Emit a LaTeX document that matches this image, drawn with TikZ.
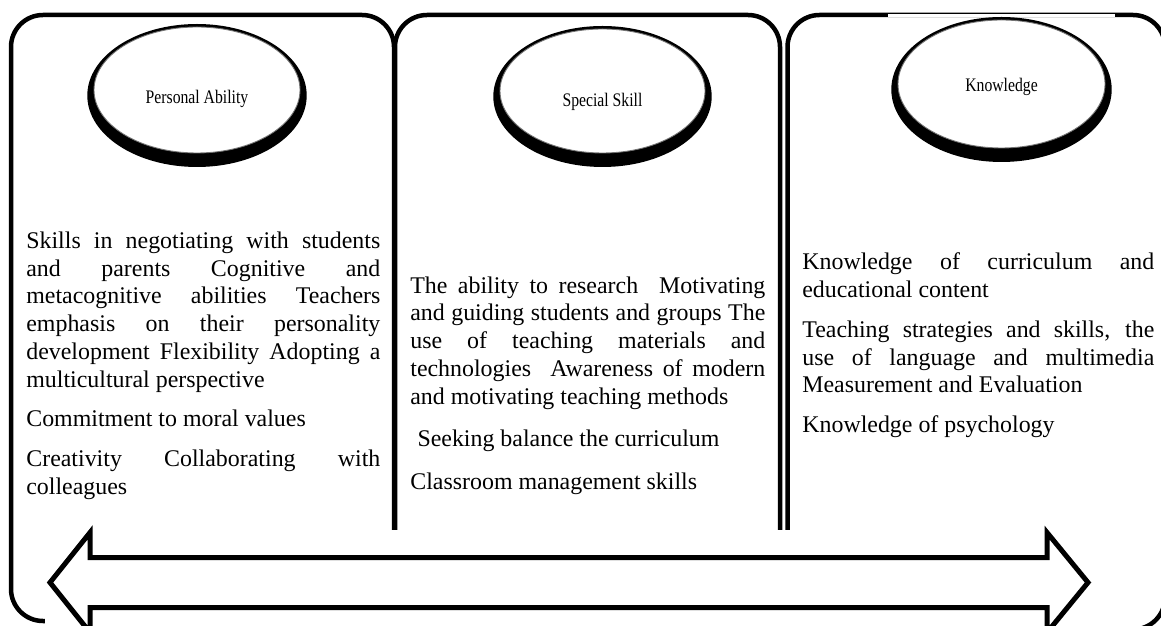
\documentclass[tikz,border=0pt]{standalone}
\usepackage{fontspec}
\setmainfont{Liberation Serif}
\newfontfamily\ovalfont[FakeStretch=0.82]{Liberation Serif}
\usetikzlibrary{shapes.geometric}

\tikzset{
  panel/.style={line width=0.09cm, rounded corners=0.64cm},
  oval/.style={ellipse, draw=black!55, line width=0.5pt, fill=white, inner sep=0pt,
    minimum width=4.12cm, minimum height=2.52cm, text depth=0pt,
    font=\ovalfont\fontsize{10.9}{12}\selectfont},
  body/.style={anchor=north west, inner sep=0pt, align=justify,
    font=\fontsize{13.6}{15.8}\selectfont},
  bigarrow/.style={line width=0.1cm, fill=white}
}

\begin{document}
\begin{tikzpicture}
                \useasboundingbox (0,0) rectangle (23.22,12.5);
                \draw[panel] (0.22,0.08) rectangle (7.88,12.2);
                \draw[panel] (7.9,0.08) rectangle (15.6,12.2);
                \draw[panel] (15.75,-0.09) rectangle (23.3,12.2);
                \fill[white] (17.76,12.15) rectangle (22.3,12.22);
                \fill (3.94,10.59) ellipse [x radius=2.194cm, y radius=1.43cm];
                \fill (12.05,10.57) ellipse [x radius=2.184cm, y radius=1.41cm];
                \fill (20.03,10.71) ellipse [x radius=2.204cm, y radius=1.45cm];
                \node[oval, text height=15.2pt] (pa) at (3.94,10.7) {Personal Ability};
                \node[oval, minimum width=4.1cm, minimum height=2.48cm, text height=17.4pt] (ss) at (12.05,10.68) {Special Skill};
                \node[oval, minimum width=4.14cm, minimum height=2.56cm, text height=8.4pt] (kn) at (20.03,10.82) {Knowledge};
                \node[body, text width=7.08cm] (pabody) at (0.52,7.928) {\strut Skills in negotiating with students\linebreak
                    and parents Cognitive and\linebreak
                    metacognitive abilities Teachers\linebreak
                    emphasis on their personality\linebreak
                    development Flexibility Adopting a\linebreak
                    multicultural perspective\par\vspace{6.8pt}
                    Commitment to moral values\par\vspace{6.8pt}
                    Creativity Collaborating with\linebreak
                    colleagues};
                \node[body, text width=7.1cm] (ssbody) at (8.2,7.034) {\strut The ability to research\ \ Motivating\linebreak
                    and guiding students and groups The\linebreak
                    use of teaching materials and\linebreak
                    technologies\ \ Awareness of modern\linebreak
                    and motivating teaching methods\par\vspace{8.4pt}
                    \hspace*{0.3em}Seeking balance the curriculum\par\vspace{8.4pt}
                    Classroom management skills};
                \node[body, text width=7.04cm] (knbody) at (16.04,7.5) {\strut Knowledge of curriculum and\linebreak
                    educational content\par\vspace{6.8pt}
                    Teaching strategies and skills, the\linebreak
                    use of language and multimedia\linebreak
                    Measurement and Evaluation\par\vspace{6.8pt}
                    Knowledge of psychology};
                \fill[white] (0.9,-0.2) rectangle (22.8,1.9);
                \draw[bigarrow] (1.0,0.85) -- (1.8,1.85) -- (1.8,1.35) -- (20.94,1.35) -- (20.94,1.85) -- (21.76,0.85)
                    -- (20.94,-0.15) -- (20.94,0.35) -- (1.8,0.35) -- (1.8,-0.15) -- cycle;
            \end{tikzpicture}
\end{document}
